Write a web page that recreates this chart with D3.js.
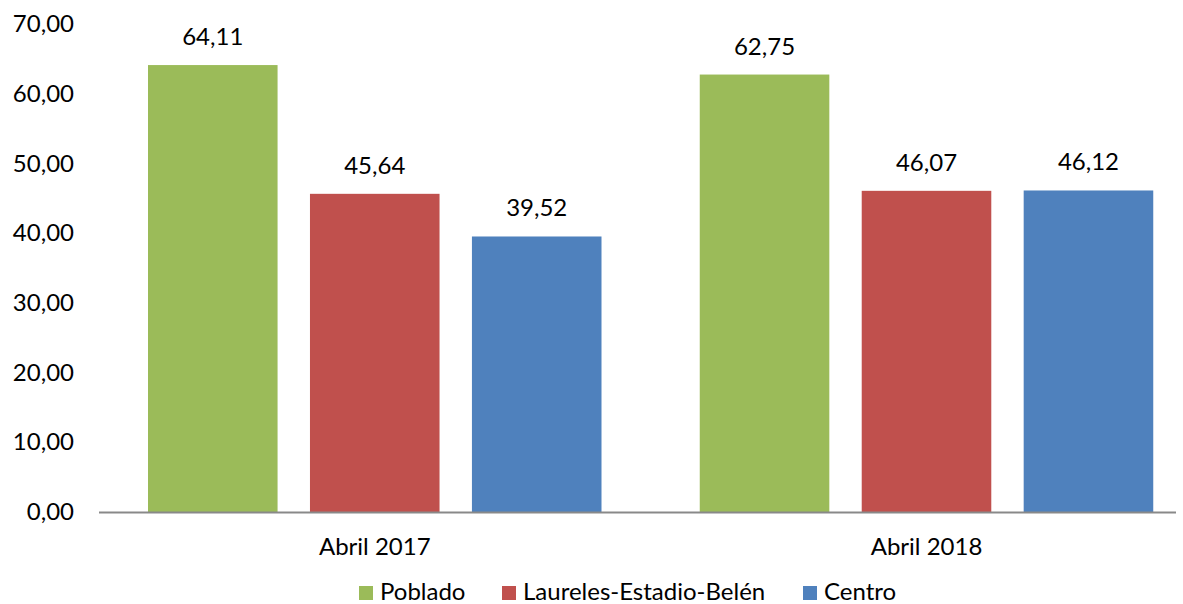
<!DOCTYPE html>
<html>
<head>
<meta charset="utf-8">
<script src="https://cdn.jsdelivr.net/npm/d3@7"></script>
<style>
  body { margin: 0; background: #fff; }
  text { font-family: Lato, sans-serif; font-size: 24px; fill: #000; }
</style>
</head>
<body>
<div id="chart"></div>
<script>
// data
const categories = ["Abril 2017", "Abril 2018"];
const series = ["Poblado", "Laureles-Estadio-Belén", "Centro"];
const poblado = [64.11, 62.75];
const laureles = [45.64, 46.07];
const centro = [39.52, 46.12];
const colors = ["#9BBB59", "#C0504D", "#4F81BD"];
const yTicks = [0, 10, 20, 30, 40, 50, 60, 70];

const values = [poblado, laureles, centro];
const fmt = v => d3.format(".2f")(v).replace(".", ",");

const rows = [];
categories.forEach((c, ci) => {
  series.forEach((s, si) => {
    rows.push({ cat: c, ser: s, value: values[si][ci], color: colors[si] });
  });
});

const svg = d3.select("#chart").append("svg")
  .attr("width", 1183).attr("height", 604);

// scales
const x0 = d3.scaleBand().domain(categories).range([99, 1202.5]).padding(0);
const x1 = d3.scaleBand().domain(series).range([49, 502.5]).paddingInner(0.2).paddingOuter(0);
const y = d3.scaleLinear().domain([0, 70]).range([512, 24]);

// y axis labels
const yAxis = svg.append("g")
  .attr("transform", "translate(84,0)")
  .call(d3.axisLeft(y).tickValues(yTicks).tickFormat(fmt).tickSize(0).tickPadding(10));
yAxis.select(".domain").remove();
yAxis.selectAll("text").style("font-family", "Lato, sans-serif").style("font-size", "24px").attr("fill", "#000");

// bars
svg.append("g").selectAll("rect")
  .data(rows)
  .enter()
  .append("rect")
  .attr("x", d => x0(d.cat) + x1(d.ser))
  .attr("y", d => y(d.value))
  .attr("width", x1.bandwidth())
  .attr("height", d => y(0) - y(d.value))
  .attr("fill", d => d.color);

// value labels
svg.append("g").selectAll("text")
  .data(rows)
  .enter()
  .append("text")
  .attr("x", d => x0(d.cat) + x1(d.ser) + x1.bandwidth() / 2)
  .attr("y", d => y(d.value) - 20)
  .attr("text-anchor", "middle")
  .text(d => fmt(d.value));

// x axis line (cut at the right like the reference)
svg.append("line")
  .attr("x1", 99).attr("x2", 1176)
  .attr("y1", y(0) + 0.5).attr("y2", y(0) + 0.5)
  .attr("stroke", "#898989").attr("stroke-width", 2);

// category labels
svg.append("g").selectAll("text")
  .data(categories)
  .enter()
  .append("text")
  .attr("x", d => x0(d) + 49 + (502.5 - 49) / 2)
  .attr("y", 555)
  .attr("text-anchor", "middle")
  .text(d => d);

// legend
const legendX = [359, 502, 803];
const legend = svg.append("g").selectAll("g")
  .data(series)
  .enter()
  .append("g")
  .attr("transform", (d, i) => "translate(" + legendX[i] + ",586)");
legend.append("rect")
  .attr("width", 14).attr("height", 14)
  .attr("fill", (d, i) => colors[i]);
legend.append("text")
  .attr("x", 21).attr("y", 14)
  .text(d => d);
</script>
</body>
</html>
